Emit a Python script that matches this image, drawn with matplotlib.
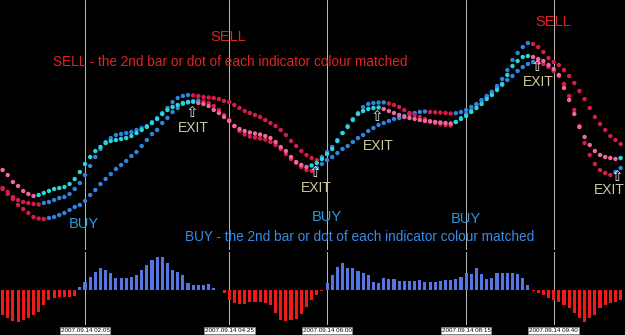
import numpy as np
import matplotlib
matplotlib.use("Agg")
import matplotlib.pyplot as plt
from matplotlib.transforms import blended_transform_factory

# 5-minute bars, index 0 = 00:45
bars = np.arange(121)

# indicator lines (arbitrary level units)
fast_line = [80, 75, 68, 64, 59, 56, 54, 55, 57, 59, 61, 62, 63, 66, 71, 78, 86, 93, 99, 103,
             107, 109, 110, 111, 112, 114, 117, 120, 123, 127, 131, 136, 140, 143, 145, 147, 148, 148.2, 147, 146,
             144, 140, 137, 133, 129, 124, 121, 119, 117.5, 116.5, 115.5, 114, 112, 108, 103, 99, 93, 88, 85, 83,
             84.5, 87, 91, 96, 101, 109, 117, 123, 130, 136, 139, 141, 142, 142.5, 141, 139, 137, 135, 133, 132,
             131, 130, 129, 128.5, 128, 127.5, 127, 126.5, 128, 131, 134, 138, 142, 146, 151, 155, 160, 166, 175, 184,
             189, 193, 194, 193, 191, 189, 185, 181, 175, 162, 150, 136, 123, 113, 105, 99, 95, 93, 92, 91, 92]
mid_line = [62, 58, 53, 50, 48, 47, 46, 45.5, 47, 48, 50, 52, 53, 56, 61, 67, 75, 84, 93, 101,
            108, 112, 115, 116, 117, 118, 120, 122, 124, 128, 132, 137, 142, 148, 152, 154, 155, 154.6, 154, 153,
            152.5, 152, 151, 149, 148, 145, 142, 139, 137, 135, 133, 130, 127, 124, 120, 115, 109, 104, 99, 95,
            92, 90, 93, 98, 103, 110, 117, 124, 131, 137, 143, 146, 147, 147.4, 147.6, 146.5, 145, 143, 140, 137,
            135, 133, 131, 129, 127, 126, 125, 124.5, 128, 132, 136, 140, 145, 149, 153, 158, 164, 171, 180, 190,
            197, 203, 207, 206, 203, 198, 192, 188, 185, 180, 174, 167, 159, 151, 142, 133, 126, 120, 114, 110, 106]
slow_line = [61, 56, 51, 45, 41, 37, 33, 31.5, 31, 32, 33, 35, 37, 40, 43, 45, 49, 55, 60, 66,
             71, 76, 81, 85, 89, 94, 98, 104, 110, 116, 120, 127, 132, 138, 142, 146, 147.5, 149, 149.5, 148.5,
             147, 144, 140, 135, 130, 124, 119, 115.5, 113.5, 112.5, 111.5, 110.5, 108, 105, 101, 96, 91, 87, 83, 80,
             79, 82, 86, 90, 93, 97, 101, 104, 108, 112, 115, 119, 122, 125, 127, 129, 131, 132, 134, 136,
             137, 138, 138.5, 138, 137.7, 137.4, 137, 136.5, 136.8, 138, 140, 143, 146, 150, 154, 158, 162, 165, 170, 174,
             179, 183, 186, 188, 187.5, 186, 183, 179, 174, 166, 154, 140, 124, 107, 95, 86, 80, 77, 75, 78, 82]

# oscillator histogram
histogram = [-25, -28, -31, -32, -30, -28, -25, -22, -15, -10, -8, -7, -7, -7, -6, 3, 8, 13, 18, 22,
             20, 17, 12, 12, 12, 13, 15, 20, 25, 30, 33, 33, 27, 20, 18, 15, 7, 5, 5, 5,
             6, 2, 0.5, -3, -10, -13, -14, -14, -12, -12, -12, -13, -15, -23, -30, -31, -30, -29, -24, -17,
             -10, -5, -0.5, 7, 15, 23, 27, 22, 22, 19, 17, 15, 8, 7, 12, 11, 11, 9, 9, 9,
             9, 10, 8, 8, 8, 9, 10, 10, 11, 13, 17, 16, 22, 16, 11, 12, 17, 17, 17, 17,
             16, 12, 5, -1, -3, -5, -8, -10, -12, -15, -18, -23, -28, -32, -28, -25, -18, -15, -13, -12, -10]

# time separators
sep_bars = [16, 44, 63, 90, 107]
sep_labels = ["2007.09.14 02:05", "2007.09.14 04:25", "2007.09.14 06:00",
              "2007.09.14 08:15", "2007.09.14 09:40"]

W, H = 625, 335
fig = plt.figure(figsize=(W / 100, H / 100), dpi=100, facecolor="black")
ax = fig.add_axes([0, 85 / H, 1, 250 / H], facecolor="black")
ax2 = fig.add_axes([0, 10 / H, 1, 73 / H], facecolor="black")
for a in (ax, ax2):
    a.set_xlim(-0.505, 120.85)
    a.axis("off")
ax.set_ylim(0, 250)
ax2.set_ylim(-35, 38)

CYAN, PINK = "#26d9d6", "#f2679c"
BLUE, CRIMSON = "#2f84e0", "#d81c48"


def dot_colors(vals, up, down):
    v = np.asarray(vals, dtype=float)
    d = np.diff(v)
    d = np.concatenate([[d[0]], d])
    return [up if x >= 0 else down for x in d]


for a in (ax, ax2):
    for b in sep_bars:
        a.axvline(b, color="#bdbdbd", lw=0.7, zorder=1)

ax.scatter(bars, slow_line, s=10, c=dot_colors(slow_line, BLUE, CRIMSON), lw=0, zorder=3)
ax.scatter(bars, mid_line, s=10, c=dot_colors(mid_line, BLUE, CRIMSON), lw=0, zorder=3)
ax.scatter(bars, fast_line, s=10, c=dot_colors(fast_line, CYAN, PINK), lw=0, zorder=4)

hist = np.asarray(histogram)
ax2.bar(bars, hist, width=0.6, color=np.where(hist >= 0, "#5575e2", "#f01a1a"), lw=0, zorder=2)

fam = ["Liberation Sans", "DejaVu Sans"]


def txt(x, y, s, color, size, ha="center"):
    fig.text(x / W, 1 - y / H, s, color=color, fontsize=size, ha=ha, va="center", family=fam)


txt(228, 37, "SELL", "#e02424", 10.5)
txt(553, 22, "SELL", "#e02424", 10.5)
txt(53, 62, "SELL - the 2nd bar or dot of each indicator colour matched", "#e02424", 9.8, ha="left")
txt(84, 224, "BUY", "#2a9ad6", 10.5)
txt(327, 217, "BUY", "#2a9ad6", 10.5)
txt(466, 219, "BUY", "#2a9ad6", 10.5)
txt(185, 237, "BUY - the 2nd bar or dot of each indicator colour matched", "#3a8ae8", 9.8, ha="left")

exits = [(193, 128, 192, 113), (316, 188, 315, 173), (378, 146, 377, 117),
         (538, 82, 537, 67), (609, 190, 617, 177)]
for ex, ey, arx, ary in exits:
    txt(ex, ey, "EXIT", "#cfc79c", 10)
    txt(arx, ary, "\u21e7", "#e6e6e6", 11)

tr = blended_transform_factory(ax2.transData, fig.transFigure)
for b, lab in zip(sep_bars, sep_labels):
    fig.text(b, 4.5 / H, lab, transform=tr, fontsize=4.5, color="black", ha="center", va="center",
             family=fam, bbox=dict(boxstyle="square,pad=0.15", fc="white", ec="#888888", lw=0.4))

fig.savefig("out.png", dpi=100, facecolor="black")
